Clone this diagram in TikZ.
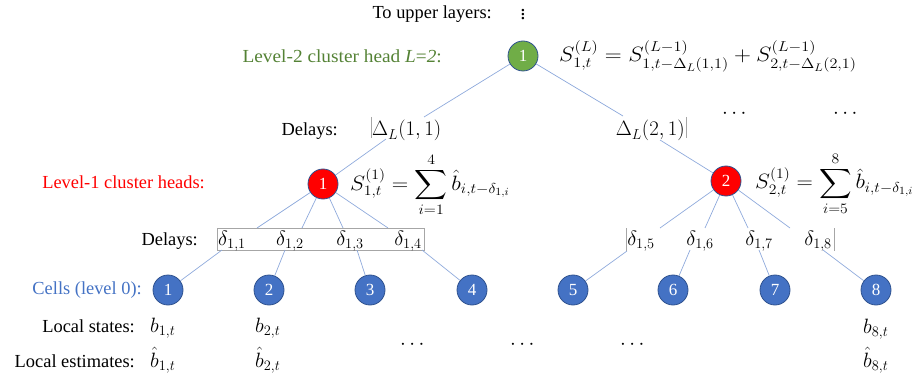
\documentclass[tikz,border=0pt]{standalone}
\usepackage{amsmath}
\usepackage{exscale}
\usepackage{fontspec}
\setmainfont{Liberation Serif}
\definecolor{linkc}{HTML}{8FAADC}
\definecolor{edgec}{HTML}{2F528F}
\definecolor{greenf}{HTML}{70AD47}
\definecolor{greent}{HTML}{548235}
\definecolor{bluef}{HTML}{4472C4}
\definecolor{boxc}{HTML}{A6A6A6}
\begin{document}
\begin{tikzpicture}[x=1pt,y=-1pt,
  txt/.style={inner sep=0pt,font=\fontsize{18.4}{22}\selectfont},
  mth/.style={inner sep=0pt,font=\fontsize{21}{25}\selectfont},
  circ/.style={circle,draw=edgec,line width=0.8pt,minimum size=30pt,inner sep=0pt,
     text=white,font=\fontsize{17}{20}\selectfont},
  gnode/.style={circ,fill=greenf},
  rnode/.style={circ,fill=red},
  cnode/.style={circ,fill=bluef},
  link/.style={draw=linkc,line width=0.7pt},
  bar/.style={draw=boxc,line width=0.7pt}]
\useasboundingbox (0,0) rectangle (920,382);

% top
\node[txt,anchor=base east] (up) at (492,19) {To upper layers:};
\node[mth] (vd) at (523,11.5) {$\vdots$};
\node[txt,anchor=base east,text=greent] (l2) at (442,63) {\scalebox{1.05}[1]{Level-2 cluster head \textit{L}=\textit{2}:}};
\node[gnode] (g) at (523,56) {1};
\node[mth,anchor=base west] (fg) at (559,62) {\scalebox{1.13}[1]{$S^{(L)}_{1,t}=S^{(L-1)}_{1,t-\Delta_L(1,1)}+S^{(L-1)}_{2,t-\Delta_L(2,1)}$}};

% level-2 delays
\node[txt,anchor=base east] (dl) at (338,136) {Delays:};
\node[mth,anchor=base west] (D1) at (372,136) {$\Delta_L(1,1)$};
\node[mth,anchor=base east] (D2) at (685,136) {$\Delta_L(2,1)$};
\draw[bar] (371,117) -- (371,138);
\draw[bar] (686,117) -- (686,138);
\node[mth] (e1) at (736,114) {$\cdots$};
\node[mth] (e2) at (847,114) {$\cdots$};

\coordinate (D1t) at (424,117);
\coordinate (D1b) at (386,139);
\coordinate (D2t) at (623,116);
\coordinate (D2b) at (660,140);

% level-1
\node[txt,anchor=base east,text=red] (l1) at (205,189) {Level-1 cluster heads:};
\node[rnode] (r1) at (323,184) {1};
\node[rnode] (r2) at (726,181) {2};
\node[mth,anchor=base west] (f1) at (350,190) {\scalebox{1.1}[1]{$S^{(1)}_{1,t}=\displaystyle\sum_{i=1}^{4}\hat b_{i,t-\delta_{1,i}}$}};
\node[mth,anchor=base west] (f2) at (755,189) {\scalebox{1.09}[1]{$S^{(1)}_{2,t}=\displaystyle\sum_{i=5}^{8}\hat b_{i,t-\delta_{1,i}}$}};

\draw[link] (g) -- (D1t);
\draw[link] (g) -- (D2t);
\draw[link] (D1b) -- (r1);
\draw[link] (D2b) -- (r2);

% level-1 delays
\node[txt,anchor=base east] (dl1) at (198,245) {Delays:};
\node[draw=boxc,line width=0.7pt,minimum width=207pt,minimum height=22pt,inner sep=0pt] (box) at (320.5,239) {};
\node[mth,anchor=base] (d1) at (232,245) {$\delta_{1,1}$};
\node[mth,anchor=base] (d2) at (290,245) {$\delta_{1,2}$};
\node[mth,anchor=base] (d3) at (350,245) {$\delta_{1,3}$};
\node[mth,anchor=base] (d4) at (408,245) {$\delta_{1,4}$};
\node[mth,anchor=base] (d5) at (641,245) {$\delta_{1,5}$};
\node[mth,anchor=base] (d6) at (700,245) {$\delta_{1,6}$};
\node[mth,anchor=base] (d7) at (759,245) {$\delta_{1,7}$};
\node[mth,anchor=base] (d8) at (818,245) {$\delta_{1,8}$};
\draw[bar] (626,228) -- (626,251);
\draw[bar] (834,228) -- (834,251);

\coordinate (t1) at (257,228);
\coordinate (t2) at (302,228);
\coordinate (t3) at (343,228);
\coordinate (t4) at (388,228);
\coordinate (t5) at (660,228);
\coordinate (t6) at (705,228);
\coordinate (t7) at (748,228);
\coordinate (t8) at (790,228);
\coordinate (b1) at (222,250);
\coordinate (b2) at (285,250);
\coordinate (b3) at (357,250);
\coordinate (b4) at (422,250);
\coordinate (b5) at (627,251);
\coordinate (b6) at (690,250);
\coordinate (b7) at (759,250);
\coordinate (b8) at (823,250);

% cells
\node[txt,anchor=east,text=bluef] (cl) at (142,290) {Cells (level 0):};
\node[cnode] (c1) at (168,290) {1};
\node[cnode] (c2) at (269,290) {2};
\node[cnode] (c3) at (370,290) {3};
\node[cnode] (c4) at (472,290) {4};
\node[cnode] (c5) at (573,290) {5};
\node[cnode] (c6) at (673,290) {6};
\node[cnode] (c7) at (775,290) {7};
\node[cnode] (c8) at (876,290) {8};

\foreach \i in {1,2,3,4}{\draw[link] (r1) -- (t\i);}
\foreach \i in {5,6,7,8}{\draw[link] (r2) -- (t\i);}
\foreach \i in {1,...,8}{\draw[link] (b\i) -- (c\i);}

% local states
\node[txt,anchor=base east] (ls) at (135,332) {Local states:};
\node[txt,anchor=base east] (le) at (135,367) {Local estimates:};
\node[mth,anchor=base west] (s1) at (150,332) {$b_{1,t}$};
\node[mth,anchor=base west] (s2) at (255,332) {$b_{2,t}$};
\node[mth,anchor=base west] (s8) at (863,333) {$b_{8,t}$};
\node[mth,anchor=base west] (h1) at (150,367) {$\hat b_{1,t}$};
\node[mth,anchor=base west] (h2) at (255,367) {$\hat b_{2,t}$};
\node[mth,anchor=base west] (h8) at (863,367) {$\hat b_{8,t}$};
\node[mth] (m1) at (414,345) {$\cdots$};
\node[mth] (m2) at (524,345) {$\cdots$};
\node[mth] (m3) at (634,345) {$\cdots$};
\end{tikzpicture}
\end{document}
